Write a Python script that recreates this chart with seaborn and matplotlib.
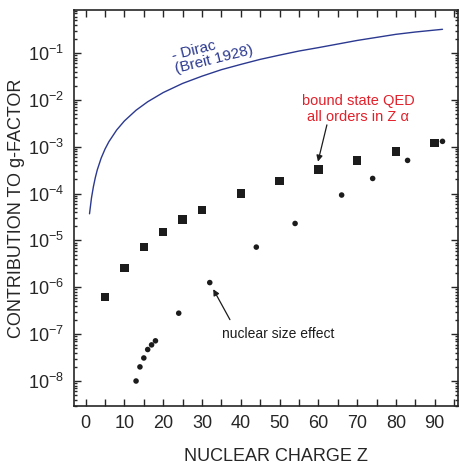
import numpy as np
import pandas as pd
import seaborn as sns
import matplotlib
matplotlib.use("Agg")
import matplotlib.pyplot as plt
from matplotlib.ticker import MultipleLocator, LogLocator, NullFormatter

# values
dirac_z = [1, 1.5, 2, 2.5, 3, 4, 5, 6, 8, 10, 13, 16, 20, 25, 30, 35, 40, 45,
           50, 55, 60, 65, 70, 75, 80, 85, 92]
dirac_val = [3.7e-5, 8.0e-5, 1.4e-4, 2.2e-4, 3.2e-4, 5.7e-4, 8.9e-4, 1.28e-3,
             2.27e-3, 3.55e-3, 6.0e-3, 9.1e-3, 1.43e-2, 2.24e-2, 3.2e-2, 4.4e-2,
             5.7e-2, 7.3e-2, 9.0e-2, 0.11, 0.13, 0.155, 0.185, 0.215, 0.25,
             0.28, 0.32]

qed_z = [5, 10, 15, 20, 25, 30, 40, 50, 60, 70, 80, 90]
qed_val = [6.2e-7, 2.6e-6, 7.2e-6, 1.5e-5, 2.8e-5, 4.5e-5, 1.0e-4, 1.86e-4,
           3.25e-4, 5.1e-4, 8.0e-4, 1.2e-3]

nuc_z = [13, 14, 15, 16, 17, 18, 24, 32, 44, 54, 66, 74, 83, 92]
nuc_val = [1.0e-8, 2.0e-8, 3.1e-8, 4.7e-8, 5.9e-8, 7.2e-8, 2.8e-7, 1.26e-6,
           7.2e-6, 2.3e-5, 9.3e-5, 2.1e-4, 5.1e-4, 1.3e-3]

sns.set_style("ticks")
plt.rcParams['font.family'] = ['Liberation Sans', 'DejaVu Sans']
plt.rcParams['mathtext.fontset'] = 'custom'
plt.rcParams['mathtext.rm'] = 'Liberation Sans'
plt.rcParams['mathtext.it'] = 'Liberation Sans:italic'

blue = '#2b3990'
red = '#e3202a'

fig = plt.figure(figsize=(4.6, 4.65), dpi=100)
ax = fig.add_axes([74 / 460, 59.3 / 465, 384 / 460, 395.7 / 465])

sns.lineplot(x=dirac_z, y=dirac_val, ax=ax, color=blue, lw=1.0)
sns.scatterplot(x=qed_z, y=qed_val, ax=ax, marker='s', s=38, color='#1c1c1c',
                edgecolor='none', zorder=3)
sns.scatterplot(x=nuc_z, y=nuc_val, ax=ax, marker='o', s=16, color='#1c1c1c',
                edgecolor='none', zorder=3)

ax.set_yscale('log')
ax.set_xlim(-3.0, 96.0)
ax.set_ylim(10 ** -8.527, 10 ** -0.083)

ax.xaxis.set_major_locator(MultipleLocator(10))
ax.xaxis.set_minor_locator(MultipleLocator(5))
ax.yaxis.set_minor_locator(LogLocator(base=10, subs=np.arange(2, 10), numticks=20))
ax.yaxis.set_minor_formatter(NullFormatter())
yt = [10.0 ** k for k in range(-8, 0)]
ax.set_yticks(yt)
ax.set_yticklabels([r'$\mathregular{10^{%d}}$' % k for k in range(-8, 0)])

ax.tick_params(which='both', direction='in', top=True, right=True, labelsize=13,
               width=1.0)
ax.tick_params(which='major', length=5, pad=7)
ax.tick_params(which='minor', length=2.5)
ax.tick_params(axis='x', which='minor', length=5)
for sp in ax.spines.values():
    sp.set_linewidth(1.2)

ax.set_xlabel('NUCLEAR CHARGE Z', fontsize=13)
ax.set_ylabel('CONTRIBUTION TO g-FACTOR', fontsize=13)
ax.xaxis.set_label_coords(0.526, -0.108)
ax.yaxis.set_label_coords(-0.127, 0.5)

ax.text(32.8, 0.1, '- Dirac\n(Breit 1928)', color=blue, fontsize=11,
        rotation=14, ha='center', va='center', multialignment='left',
        rotation_mode='anchor', linespacing=1.0)

ax.text(70.3, 6.4e-3, 'bound state QED\nall orders in Z α', color=red, fontsize=10.5,
        ha='center', va='center', linespacing=1.15)
ax.annotate('', xy=(59.9, 4.8e-4), xytext=(62.2, 2.92e-3),
            arrowprops=dict(arrowstyle='-|>', color='#1c1c1c', lw=0.9,
                            mutation_scale=9, shrinkA=0, shrinkB=0))

ax.text(35.1, 1.02e-7, 'nuclear size effect', color='#1c1c1c', fontsize=10,
        ha='left', va='center')
ax.annotate('', xy=(32.9, 9.1e-7), xytext=(37.2, 2.04e-7),
            arrowprops=dict(arrowstyle='-|>', color='#1c1c1c', lw=0.9,
                            mutation_scale=9, shrinkA=0, shrinkB=0))

fig.savefig('out.png', dpi=100)
